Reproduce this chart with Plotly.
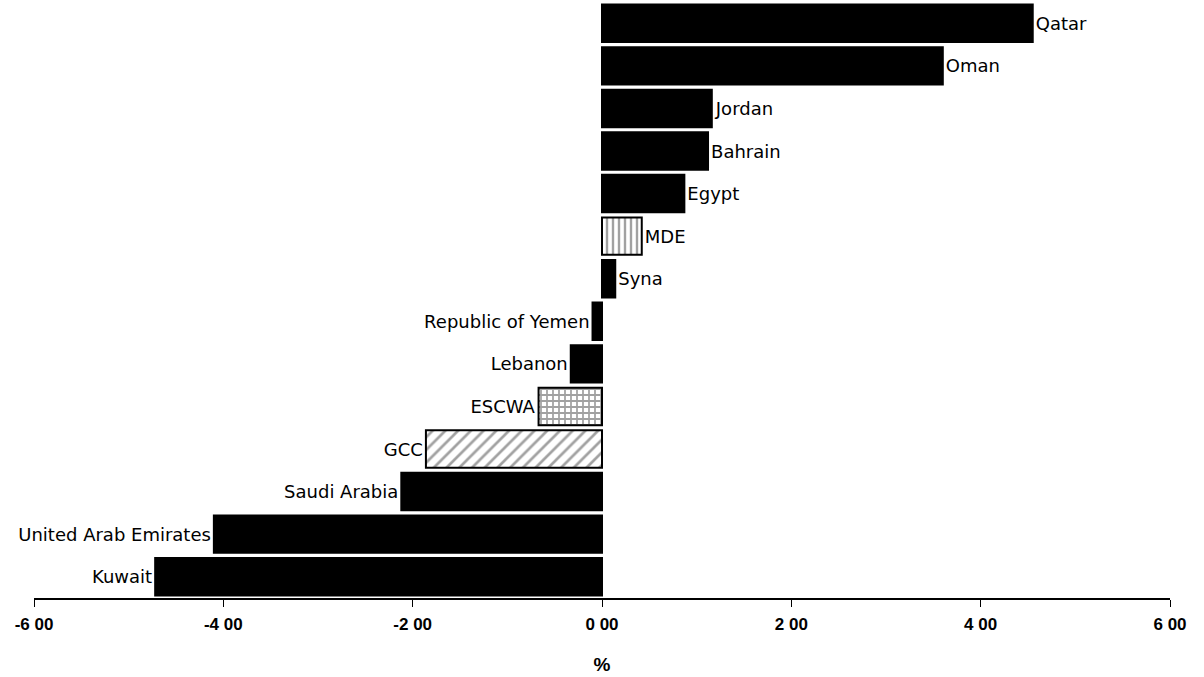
import plotly.graph_objects as go

countries = ["Kuwait", "United Arab Emirates", "Saudi Arabia", "GCC", "ESCWA", "Lebanon",
             "Republic of Yemen", "Syna", "MDE", "Egypt", "Bahrain", "Jordan", "Oman", "Qatar"]
values = [-4.72, -4.10, -2.12, -1.86, -0.67, -0.33, -0.10, 0.14, 0.42, 0.87, 1.12, 1.16, 3.60, 4.55]
patterns = ["", "", "", "/", "+", "", "", "", "|", "", "", "", "", ""]
tick_vals = [-6, -4, -2, 0, 2, 4, 6]
tick_text = ["-6 00", "-4 00", "-2 00", "0 00", "2 00", "4 00", "6 00"]

colors = ["white" if p else "black" for p in patterns]
pat_sizes = [9 if p == "/" else 6 for p in patterns]
pat_solid = [0.3 if p == "/" else (0.5 if p == "+" else 0.4) for p in patterns]

fig = go.Figure(go.Bar(
    y=countries, x=values, orientation="h",
    text=countries, textposition="outside", cliponaxis=False,
    textfont=dict(family="DejaVu Sans", size=18, color="black"),
    marker=dict(color=colors, line=dict(color="black", width=2),
                pattern=dict(shape=patterns, fgcolor="black", bgcolor="white",
                             size=pat_sizes, solidity=pat_solid)),
))

fig.update_layout(
    width=1204, height=677,
    margin=dict(l=34, r=34, t=2, b=79, autoexpand=False),
    paper_bgcolor="white", plot_bgcolor="white",
    bargap=0.12, showlegend=False,
    font=dict(family="Liberation Sans, Arial", color="black"),
    xaxis=dict(range=[-6, 6], tickvals=tick_vals, ticktext=tick_text, automargin=False,
               showgrid=False, zeroline=False, showline=True, linecolor="black", linewidth=1.5,
               ticks="outside", ticklen=7, tickcolor="black", ticklabelstandoff=3,
               tickfont=dict(family="Liberation Sans, Arial", size=17, color="black", weight="bold"),
               title=dict(text="<b>%</b>", font=dict(size=19), standoff=25)),
    yaxis=dict(showticklabels=False, showgrid=False, zeroline=False, showline=False, ticks=""),
)

fig.write_html("out.html", config={"displayModeBar": False},
               post_script="document.body.style.margin='0px';")
